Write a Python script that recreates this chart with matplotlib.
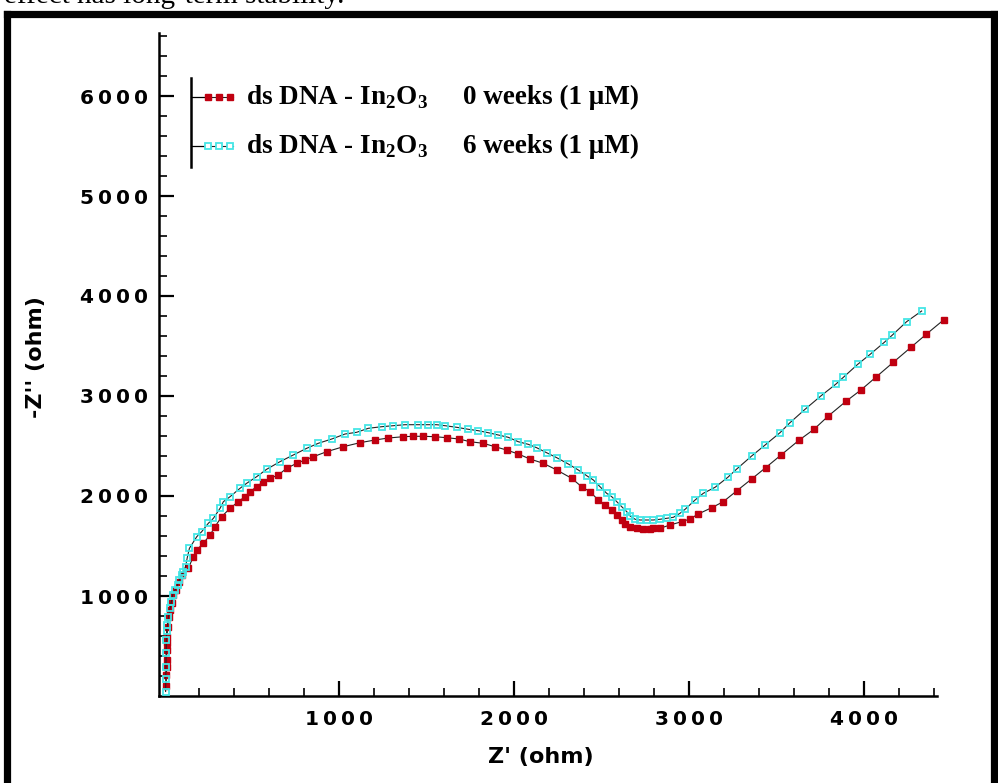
import matplotlib
matplotlib.use("Agg")
import matplotlib.pyplot as plt
from matplotlib.lines import Line2D
from matplotlib.ticker import FixedLocator, FuncFormatter

plt.rcParams['mathtext.fontset'] = 'custom'
plt.rcParams['mathtext.rm'] = 'Liberation Serif:bold'
plt.rcParams['mathtext.bf'] = 'Liberation Serif:bold'

# Nyquist data (Z' / -Z'' in ohm)
week0_zre = [15, 17, 18, 18, 18, 19, 20, 24, 30, 37, 47, 56, 71, 90, 104,
             142, 170, 190, 227, 266, 294, 332, 380, 427, 465, 494, 532, 570, 608,
             656, 703, 761, 808, 856, 932, 1027, 1122, 1208, 1284, 1370, 1427,
             1484, 1551, 1617, 1689, 1750, 1826, 1893, 1960, 2026, 2093, 2169,
             2246, 2331, 2388, 2436, 2483, 2522, 2560, 2589, 2617, 2636, 2665,
             2703, 2740, 2779, 2797, 2835, 2893, 2959, 3007, 3054, 3131, 3197,
             3273, 3359, 3439, 3527, 3629, 3715, 3797, 3898, 3983, 4068, 4168,
             4269, 4356, 4457]
week0_zim = [100, 210, 290, 360, 460, 530, 590, 693, 793, 860, 927, 1010, 1060, 1143, 1210,
             1277, 1393, 1460, 1527, 1610, 1693, 1793, 1877, 1943, 1993, 2043, 2093, 2143, 2177,
             2210, 2277, 2327, 2360, 2393, 2443, 2493, 2533, 2560, 2580, 2593, 2597,
             2597, 2593, 2583, 2570, 2543, 2527, 2493, 2460, 2420, 2370, 2327,
             2260, 2177, 2093, 2043, 1960, 1910, 1860, 1810, 1760, 1717, 1687,
             1677, 1670, 1670, 1677, 1677, 1710, 1743, 1770, 1820, 1883, 1943,
             2050, 2170, 2283, 2410, 2557, 2667, 2800, 2947, 3060, 3187, 3337,
             3487, 3617, 3763]

week6_zre = [12, 13, 14, 15, 16, 18, 22, 28, 38, 45, 52, 66, 80, 90, 104, 113, 126,
             135, 148, 190, 218, 256, 285, 323, 342, 380, 437, 475, 532, 589, 665,
             741, 818, 884, 961, 1037, 1103, 1170, 1246, 1312, 1379, 1455, 1512,
             1560, 1608, 1674, 1741, 1798, 1855, 1912, 1969, 2026, 2083, 2131,
             2188, 2246, 2312, 2369, 2417, 2455, 2493, 2531, 2560, 2589, 2617,
             2646, 2665, 2694, 2722, 2760, 2797, 2835, 2874, 2912, 2950, 2979,
             3036, 3083, 3150, 3223, 3274, 3359, 3436, 3521, 3578, 3664, 3754,
             3841, 3883, 3965, 4036, 4117, 4163, 4244, 4330]
week6_zim = [45, 170, 293, 427, 560, 650, 710, 793, 877, 943, 1010, 1060, 1110, 1160, 1210, 1243, 1293,
             1377, 1477, 1593, 1643, 1727, 1777, 1877, 1943, 1993, 2077, 2127, 2193, 2267, 2343,
             2410, 2477, 2527, 2570, 2620, 2637, 2677, 2693, 2703, 2713, 2713, 2713,
             2713, 2703, 2687, 2667, 2653, 2633, 2610, 2587, 2543, 2517, 2483,
             2433, 2383, 2320, 2260, 2203, 2160, 2093, 2027, 1993, 1943, 1893,
             1843, 1800, 1767, 1760, 1760, 1760, 1767, 1777, 1787, 1827, 1867,
             1960, 2027, 2087, 2187, 2270, 2400, 2510, 2633, 2733, 2867, 3000,
             3120, 3187, 3317, 3417, 3537, 3610, 3743, 3850]

x_major = [1000, 2000, 3000, 4000]
y_major = [1000, 2000, 3000, 4000, 5000, 6000]
series_labels = ["ds DNA - In$_2$O$_3$", "ds DNA - In$_2$O$_3$"]
series_notes = ["0 weeks (1 \u03bcM)", "6 weeks (1 \u03bcM)"]

RED = '#c00010'
CYAN = '#45e6e6'

W, H = 998, 783
fig = plt.figure(figsize=(W / 100, H / 100), dpi=100)


def fx(px):
    return px / W


def fy(py):
    return 1 - py / H


ax = fig.add_axes([fx(159.3), fy(696), (936.7 - 159.3) / W, (696 - 33.3) / H])

ax.plot(week0_zre, week0_zim, '-', color='#222222', lw=0.8, zorder=2, clip_on=False)
ax.plot(week0_zre, week0_zim, 's', color=RED, ms=5, mec=RED, zorder=3, clip_on=False)
ax.plot(week6_zre, week6_zim, '-', color='#222222', lw=0.8, zorder=4, clip_on=False)
ax.plot(week6_zre, week6_zim, 's', mfc='none', mec=CYAN, mew=1.3, ms=5, zorder=5,
        clip_on=False)

ax.set_xlim(-24, 4416)
ax.set_ylim(0, 6627)

for s in ['top', 'right']:
    ax.spines[s].set_visible(False)
for s in ['left', 'bottom']:
    ax.spines[s].set_linewidth(1.8)

ax.xaxis.set_major_locator(FixedLocator(x_major))
ax.yaxis.set_major_locator(FixedLocator(y_major))
ax.xaxis.set_minor_locator(FixedLocator([v for v in range(200, 4401, 200) if v % 1000]))
ax.yaxis.set_minor_locator(FixedLocator([v for v in range(200, 6601, 200) if v % 1000]))

spaced = FuncFormatter(lambda v, p: '\u2009'.join(str(int(v))))
ax.xaxis.set_major_formatter(spaced)
ax.yaxis.set_major_formatter(spaced)

ax.tick_params(which='major', direction='in', length=11, width=1.6,
               labelsize=14.5, pad=8)
ax.tick_params(axis='x', which='major', pad=10)
ax.tick_params(which='minor', direction='in', length=6, width=1.2)
for lab in ax.get_xticklabels() + ax.get_yticklabels():
    lab.set_fontweight('heavy')

fig.text(fx(541), fy(757), "Z' (ohm)", ha='center', va='center',
         fontsize=16, fontweight='bold')
fig.text(fx(36), fy(357), "-Z'' (ohm)", ha='center', va='center',
         fontsize=16, fontweight='bold', rotation=90)

# legend drawn in the reference style (bracket with marker samples)
fig.add_artist(Line2D([fx(191), fx(191)], [fy(78), fy(167)], color='k', lw=1.8))
leg_rows = [97, 146]
for i, row in enumerate(leg_rows):
    fig.add_artist(Line2D([fx(191), fx(205)], [fy(row), fy(row)], color='k', lw=0.9))
    fig.add_artist(Line2D([fx(205), fx(233)], [fy(row), fy(row)], color='#222222', lw=0.8))
    if i == 0:
        mk = dict(marker='s', ms=5, color=RED, mec=RED, ls='none')
    else:
        mk = dict(marker='s', ms=5, mfc='white', mec=CYAN, mew=1.3, ls='none')
    fig.add_artist(Line2D([fx(208), fx(219), fx(230)], [fy(row)] * 3, **mk))
    fig.text(fx(246), fy(row), series_labels[i], ha='left', va='center',
             fontsize=19.5, fontweight='bold', family='Liberation Serif')
    fig.text(fx(463), fy(row), series_notes[i], ha='left', va='center',
             fontsize=19.5, fontweight='bold', family='Liberation Serif')

# thick frame around the figure, as in the source page
frame = dict(color='k', lw=5.2, solid_capstyle='projecting')
fig.add_artist(Line2D([fx(7), fx(7)], [fy(14), -0.05], **frame))
fig.add_artist(Line2D([fx(7), fx(994)], [fy(14), fy(14)], **frame))
fig.add_artist(Line2D([fx(994), fx(994)], [fy(14), -0.05], **frame))

# clipped caption line from the page above the figure
fig.text(fx(4), fy(3), "effect has long-term stability.", ha='left',
         va='baseline', fontsize=21, family='Liberation Serif')

fig.savefig('out.png', dpi=100)
